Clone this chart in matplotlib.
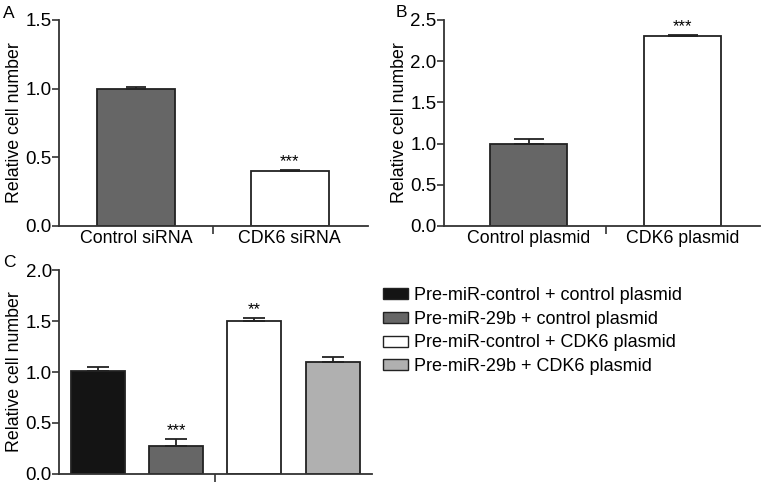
import matplotlib
matplotlib.use("Agg")
import matplotlib.pyplot as plt
from matplotlib.patches import Patch

plt.rcParams['font.family'] = ['Liberation Sans', 'DejaVu Sans']

# Panel A data
a_labels = ["Control siRNA", "CDK6 siRNA"]
a_values = [1.00, 0.40]
a_errors = [0.01, 0.01]
a_stars = ["", "***"]
a_colors = ["#666666", "white"]

# Panel B data
b_labels = ["Control plasmid", "CDK6 plasmid"]
b_values = [1.00, 2.31]
b_errors = [0.06, 0.01]
b_stars = ["", "***"]
b_colors = ["#666666", "white"]

# Panel C data
c_labels = ["Pre-miR-control + control plasmid",
            "Pre-miR-29b + control plasmid",
            "Pre-miR-control + CDK6 plasmid",
            "Pre-miR-29b + CDK6 plasmid"]
c_values = [1.01, 0.27, 1.50, 1.10]
c_errors = [0.04, 0.07, 0.03, 0.05]
c_stars = ["", "***", "**", ""]
c_colors = ["#141414", "#666666", "white", "#b0b0b0"]

fig = plt.figure(figsize=(7.62, 4.86), dpi=100)

def panel(rect, values, errors, stars, colors, width, cap, xlim, ylim, yticks, mid, labels=None):
    ax = fig.add_axes(rect)
    x = list(range(len(values)))
    ax.bar(x, values, width=width, color=colors, edgecolor="#222222", linewidth=1.3,
           zorder=2)
    # upper error bars only
    ax.errorbar(x, values, yerr=[[0] * len(values), errors], fmt="none",
                ecolor="#222222", elinewidth=1.3, capsize=cap, capthick=1.3,
                zorder=3)
    top = ylim[1]
    for xi, v, e, s in zip(x, values, errors, stars):
        if s:
            ax.text(xi, v + e + top * 0.005, s, ha="center", va="bottom", fontsize=12)
    ax.set_xlim(*xlim)
    ax.set_ylim(*ylim)
    ax.set_yticks(yticks)
    ax.set_yticklabels([f"{t:.1f}" for t in yticks], fontsize=13.5)
    ax.set_xticks([mid])
    ax.set_xticklabels([""])
    if labels:
        ax.tick_params(axis="x", which="minor", length=0, labelsize=12.8, pad=3)
        ax.set_xticks(x, minor=True)
        ax.set_xticklabels(labels, minor=True)
    ax.tick_params(axis="x", which="major", length=6, width=1.2, color="#333333")
    ax.tick_params(axis="y", length=5, width=1.2, color="#333333", pad=0.5)
    for side in ["top", "right"]:
        ax.spines[side].set_visible(False)
    for side in ["left", "bottom"]:
        ax.spines[side].set_linewidth(1.3)
        ax.spines[side].set_color("#333333")
    ax.set_ylabel("Relative cell number", fontsize=12.8, labelpad=1.5)
    return ax

panel([0.078, 0.535, 0.405, 0.424], a_values, a_errors, a_stars, a_colors,
      0.505, 7, (-0.50, 1.51), (0, 1.5), [0.0, 0.5, 1.0, 1.5], 0.5, a_labels)
panel([0.583, 0.535, 0.414, 0.424], b_values, b_errors, b_stars, b_colors,
      0.50, 11, (-0.55, 1.50), (0, 2.5), [0.0, 0.5, 1.0, 1.5, 2.0, 2.5], 0.5, b_labels)
panel([0.078, 0.025, 0.410, 0.419], c_values, c_errors, c_stars, c_colors,
      0.69, 8, (-0.49, 3.50), (0, 2.0), [0.0, 0.5, 1.0, 1.5, 2.0], 1.5)

fig.text(0.004, 0.972, "A", fontsize=12.5, va="center")
fig.text(0.519, 0.974, "B", fontsize=12.5, va="center")
fig.text(0.004, 0.459, "C", fontsize=12.5, va="center")

handles = [Patch(facecolor=c, edgecolor="#222222", linewidth=1.0) for c in c_colors]
fig.legend(handles, c_labels, loc="upper left", bbox_to_anchor=(0.502, 0.41),
           frameon=False, fontsize=13, handlelength=1.4, handleheight=0.55,
           handletextpad=0.35, labelspacing=0.38, borderpad=0, borderaxespad=0)

fig.savefig("out.png", dpi=100)
